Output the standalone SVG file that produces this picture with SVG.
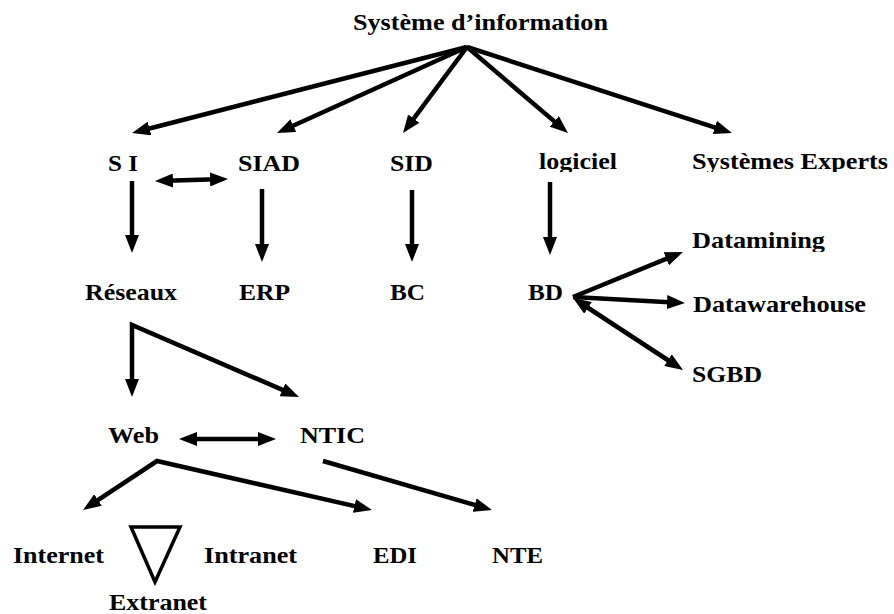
<svg xmlns="http://www.w3.org/2000/svg" width="894" height="614" viewBox="0 0 894 614">
  <style>
    text { font-family: 'Liberation Serif', 'DejaVu Serif', serif; font-weight: 700; font-size: 24px; fill: #000; }
    .link { fill: none; stroke: #000; stroke-width: 4.5; stroke-linejoin: miter; stroke-miterlimit: 10; }
    .one { marker-end: url(#head); }
    .two { marker-start: url(#head); marker-end: url(#head); }
    .tri { fill: none; stroke: #000; stroke-width: 3.5; stroke-linejoin: miter; }
  </style>
  <defs>
    <marker id="head" markerUnits="userSpaceOnUse" markerWidth="18" markerHeight="14" refX="7" refY="7" orient="auto-start-reverse" viewBox="0 0 18 14">
      <path d="M0,0 L18,7 L0,14 z" fill="#000"/>
    </marker>
    <!-- text boxes that cut off the descenders -->
    <clipPath id="clipRow1"><rect x="520" y="140" width="374" height="32"/></clipPath>
    <clipPath id="clipDm"><rect x="680" y="220" width="200" height="32"/></clipPath>
  </defs>
  <rect width="894" height="614" fill="#fff"/>

  <g id="connectors">
    <!-- from the root -->
    <path class="link one" d="M467,47 L142.7,130.2"/>
    <path class="link one" d="M467,47 L287,128.5"/>
    <path class="link one" d="M467,47 L409.6,124.2"/>
    <path class="link one" d="M467,47 L559.6,125.9"/>
    <path class="link one" d="M467,47 L721.5,129.6"/>
    <!-- second row -->
    <path class="link two" d="M166,180.7 L217,179.3"/>
    <path class="link one" d="M132,181 L132,242"/>
    <path class="link one" d="M262,189 L262,251"/>
    <path class="link one" d="M412,190 L412,251"/>
    <path class="link one" d="M550,182 L550,244"/>
    <!-- BD fan -->
    <path class="link one" d="M573,297 L672.8,256.2"/>
    <path class="link one" d="M573,297 L674,302.4"/>
    <path class="link two" d="M582.2,304 L673.8,364"/>
    <!-- Réseaux fork -->
    <path class="link two" d="M132,386 L132,325 L288.9,392.6"/>
    <!-- Web / NTIC -->
    <path class="link two" d="M190,439 L265,439"/>
    <path class="link two" d="M92.2,503.9 L157,461 L361.3,507.6"/>
    <path class="link one" d="M323,461 L481.4,506.9"/>
  </g>

  <g id="n-si-root"><text x="353" y="29.5" textLength="255" lengthAdjust="spacingAndGlyphs">Système d’information</text></g>
  <g id="n-si"><text x="108" y="170.5" textLength="30" lengthAdjust="spacingAndGlyphs">S I</text></g>
  <g id="n-siad"><text x="238" y="170.5" textLength="62" lengthAdjust="spacingAndGlyphs">SIAD</text></g>
  <g id="n-sid"><text x="390" y="170.5" textLength="43" lengthAdjust="spacingAndGlyphs">SID</text></g>
  <g id="n-logiciel" clip-path="url(#clipRow1)"><text x="539" y="169" textLength="78" lengthAdjust="spacingAndGlyphs">logiciel</text></g>
  <g id="n-experts" clip-path="url(#clipRow1)"><text x="692" y="169" textLength="196" lengthAdjust="spacingAndGlyphs">Systèmes Experts</text></g>

  <g id="n-reseaux"><text x="85" y="300" textLength="92" lengthAdjust="spacingAndGlyphs">Réseaux</text></g>
  <g id="n-erp"><text x="239" y="300" textLength="51" lengthAdjust="spacingAndGlyphs">ERP</text></g>
  <g id="n-bc"><text x="390" y="300" textLength="35" lengthAdjust="spacingAndGlyphs">BC</text></g>
  <g id="n-bd"><text x="528" y="299.5" textLength="35" lengthAdjust="spacingAndGlyphs">BD</text></g>

  <g id="n-datamining" clip-path="url(#clipDm)"><text x="692" y="248" textLength="133" lengthAdjust="spacingAndGlyphs">Datamining</text></g>
  <g id="n-datawarehouse"><text x="693" y="312" textLength="173" lengthAdjust="spacingAndGlyphs">Datawarehouse</text></g>
  <g id="n-sgbd"><text x="692" y="381.5" textLength="70" lengthAdjust="spacingAndGlyphs">SGBD</text></g>

  <g id="n-web"><text x="108" y="442.5" textLength="51" lengthAdjust="spacingAndGlyphs">Web</text></g>
  <g id="n-ntic"><text x="300" y="442.5" textLength="65" lengthAdjust="spacingAndGlyphs">NTIC</text></g>

  <g id="n-internet"><text x="13" y="562.5" textLength="91" lengthAdjust="spacingAndGlyphs">Internet</text></g>
  <g id="n-triangle"><path class="tri" d="M131,527 L180,527 L155,582 z"/></g>
  <g id="n-intranet"><text x="204" y="562.5" textLength="93" lengthAdjust="spacingAndGlyphs">Intranet</text></g>
  <g id="n-edi"><text x="373" y="562.5" textLength="44" lengthAdjust="spacingAndGlyphs">EDI</text></g>
  <g id="n-nte"><text x="492" y="562.5" textLength="51" lengthAdjust="spacingAndGlyphs">NTE</text></g>
  <g id="n-extranet"><text x="109" y="610" textLength="98" lengthAdjust="spacingAndGlyphs">Extranet</text></g>
</svg>
